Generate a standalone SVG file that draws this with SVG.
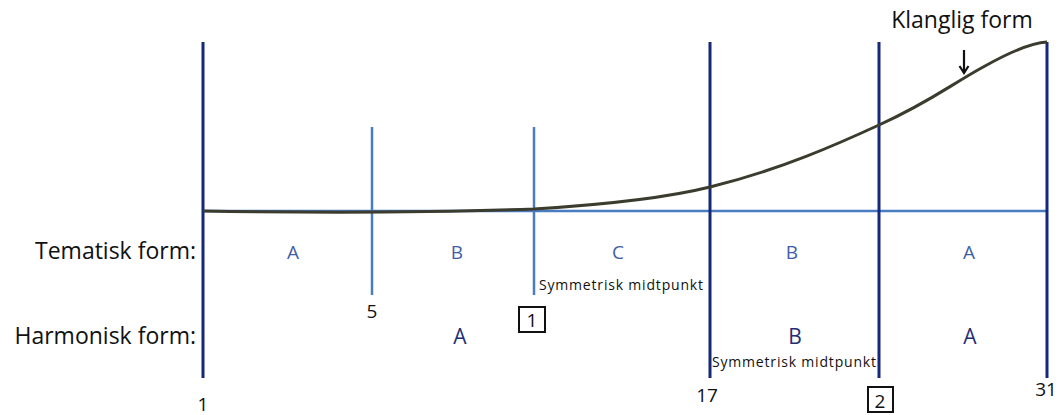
<svg xmlns="http://www.w3.org/2000/svg" width="1064" height="415" viewBox="0 0 1064 415">
<style>
text{font-family:"Open Sans","Liberation Sans",sans-serif}
.dark{stroke:#14297a;stroke-width:3;fill:none}
.light{stroke:#4a7cc2;stroke-width:2.5;fill:none}
.lbl{font-size:23px;fill:#111}
.tem{font-size:19px;fill:#3f5fa8;text-anchor:middle}
.har{font-size:21px;fill:#1f2f78;text-anchor:middle}
.num{font-size:19px;fill:#111;text-anchor:middle}
.small{font-size:14px;fill:#111}
.box{fill:none;stroke:#111;stroke-width:2}
</style>
<defs>
<marker id="ah" markerWidth="12" markerHeight="12" refX="9" refY="6" orient="auto" markerUnits="userSpaceOnUse">
<path d="M2,1.5 L9,6 L2,10.5" fill="none" stroke="#111" stroke-width="2.2"/>
</marker>
</defs>
<g id="connectors">
<line class="light" x1="203" y1="211" x2="1047" y2="211"/>
<line class="light" x1="372" y1="127" x2="372" y2="295"/>
<line class="light" x1="534" y1="127" x2="534" y2="295"/>
<line class="dark" x1="203" y1="42" x2="203" y2="378"/>
<line class="dark" x1="710" y1="42" x2="710" y2="378"/>
<line class="dark" x1="879" y1="42" x2="879" y2="378"/>
<line class="dark" x1="1047" y1="42" x2="1047" y2="378"/>
<path d="M203,211 C330,213 450,212 534,209 C615,204 670,197 710,187 C780,170 840,143 879,125 C930,102 950,85 985,66 C1010,52 1030,43 1047,42" fill="none" stroke="#3b3b2e" stroke-width="3"/>
<line x1="964" y1="50" x2="964" y2="73" stroke="#111" stroke-width="2.2" marker-end="url(#ah)"/>
</g>
<g id="row-labels">
<text class="lbl" x="196" y="259" text-anchor="end">Tematisk form:</text>
<text class="lbl" x="196" y="344" text-anchor="end">Harmonisk form:</text>
</g>
<g id="klanglig">
<text class="lbl" x="962" y="28" text-anchor="middle">Klanglig form</text>
</g>
<g id="tematisk">
<text class="tem" x="293" y="259">A</text>
<text class="tem" x="457" y="259">B</text>
<text class="tem" x="618" y="259">C</text>
<text class="tem" x="792" y="259">B</text>
<text class="tem" x="969" y="259">A</text>
</g>
<g id="harmonisk">
<text class="har" x="460" y="344">A</text>
<text class="har" x="795" y="344">B</text>
<text class="har" x="970" y="344">A</text>
</g>
<g id="numbers">
<text class="num" x="203" y="411">1</text>
<text class="num" x="372" y="318">5</text>
<text class="num" x="707" y="402">17</text>
<text class="num" x="1046" y="396">31</text>
</g>
<g id="box1">
<rect class="box" x="519" y="307" width="26" height="25"/>
<text class="num" x="532" y="327">1</text>
</g>
<g id="box2">
<rect class="box" x="868" y="387" width="25" height="25"/>
<text class="num" x="880" y="408">2</text>
</g>
<g id="midtpunkt">
<text class="small" x="539" y="290" textLength="164" lengthAdjust="spacing">Symmetrisk midtpunkt</text>
<text class="small" x="712" y="367" textLength="164" lengthAdjust="spacing">Symmetrisk midtpunkt</text>
</g>
</svg>
